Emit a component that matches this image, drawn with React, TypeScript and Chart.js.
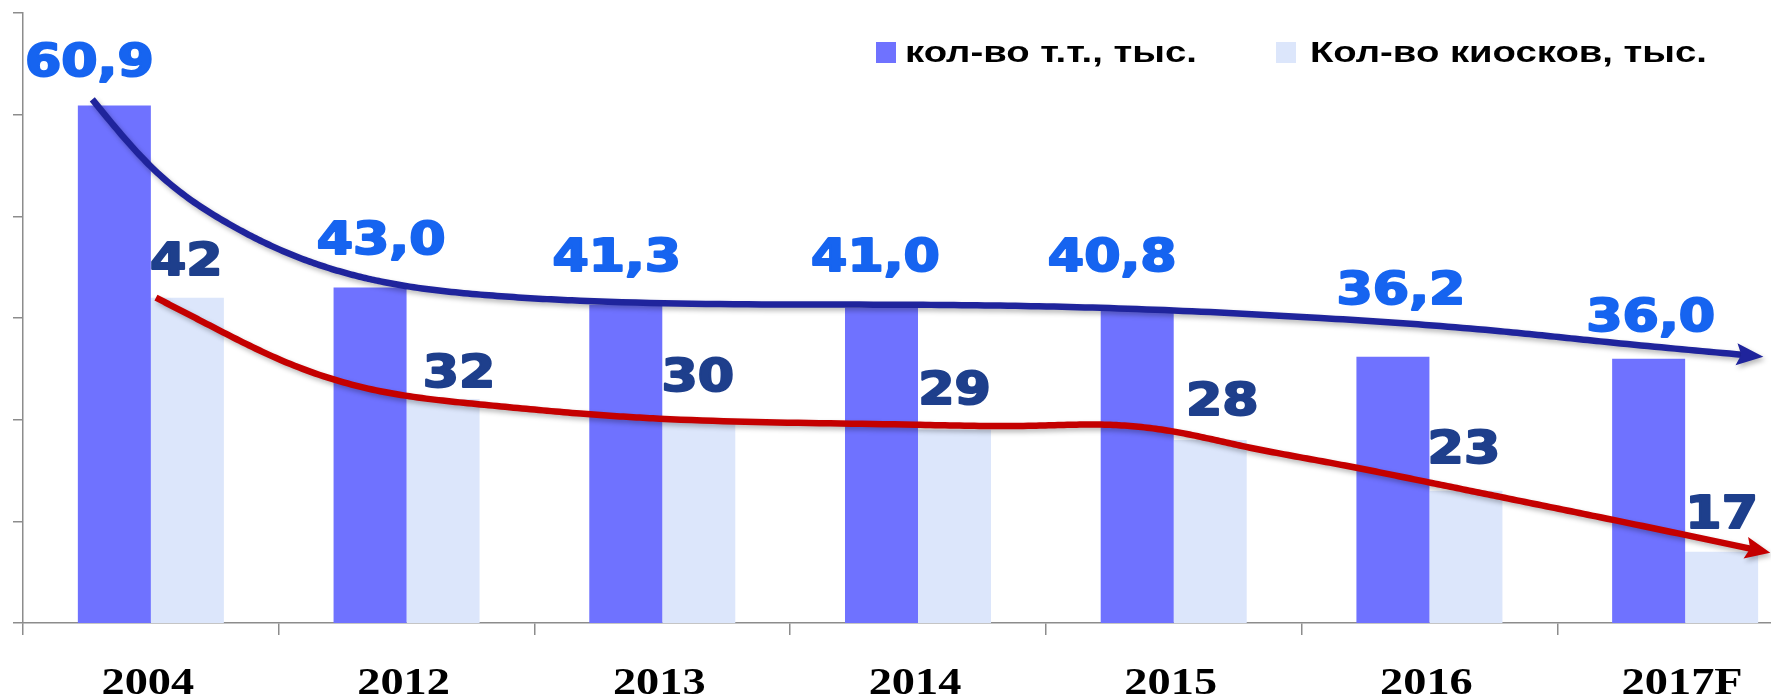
import React, { useEffect, useRef } from "react";
import { Chart, registerables } from "chart.js";

Chart.register(...registerables);

// ---- data ----
const categories = ["2004", "2012", "2013", "2014", "2015", "2016", "2017F"];
const outlets = [60.9, 43.0, 41.3, 41.0, 40.8, 36.2, 36.0];
const kiosks = [42, 32, 30, 29, 28, 23, 17];
const outletLabels = ["60,9", "43,0", "41,3", "41,0", "40,8", "36,2", "36,0"];
const kioskLabels = ["42", "32", "30", "29", "28", "23", "17"];
const seriesNames = ["кол-во т.т., тыс.", "Кол-во киосков, тыс."];
const yMin = 10;
const yMax = 70;
const yStep = 10;
// hand-drawn trend arrows: x = category index (fractional), y = value
const outletTrendX = [-0.229, 0, 0.295, 0.506, 0.737, 0.898, 1.289, 1.679, 2.99, 3.713, 4.574, 5.277, 5.668, 6.306];
const outletTrendY = [61.5, 54.9, 49.4, 46.7, 44.6, 43.6, 42.3, 41.7, 41.3, 41.0, 40.0, 38.7, 37.7, 36.2];
const kioskTrendX = [0.02, 0.205, 0.514, 0.897, 1.288, 1.68, 1.989, 2.99, 3.45, 3.741, 4.007, 4.269, 4.625, 4.985, 5.277, 5.668, 6.333];
const kioskTrendY = [42.0, 39.6, 35.8, 32.8, 31.5, 30.6, 30.1, 29.5, 29.4, 29.5, 28.8, 27.4, 25.7, 23.9, 22.4, 20.4, 16.9];

// ---- styles ----
const outletColor = "#6f72ff";
const kioskColor = "#dce6fb";
const outletLabelColor = "#1664f0";
const kioskLabelColor = "#1e3f8c";
const outletTrendColor = "#1f249c";
const kioskTrendColor = "#c40000";
const axisColor = "#8c8c8c";
// label offsets (dx, baseline gap above bar top)
const outletDx = [-25, 11, -9, -6, -25, 8, 2];
const outletDy = [30, 34, 34, 37, 39, 53, 28];
const kioskDx = [-1, 16, -1, 0, 12, -2, 0];
const kioskDy = [23, 12, 29, 26, 25, 28, 24];

function drawStretched(
  ctx: CanvasRenderingContext2D,
  text: string,
  x: number,
  y: number,
  font: string,
  color: string,
  sx: number,
  align: CanvasTextAlign,
  stroke = 0
) {
  ctx.save();
  ctx.font = font;
  ctx.fillStyle = color;
  ctx.strokeStyle = color;
  ctx.textAlign = align;
  ctx.textBaseline = "alphabetic";
  ctx.translate(x, y);
  ctx.scale(sx, 1);
  ctx.fillText(text, 0, 0);
  if (stroke > 0) {
    ctx.lineWidth = stroke;
    ctx.lineJoin = "round";
    ctx.strokeText(text, 0, 0);
  }
  ctx.restore();
}

// natural cubic spline through points (x increasing), sampled densely
function splineSample(px: number[], py: number[], perSeg: number) {
  const n = px.length;
  const h: number[] = [];
  for (let i = 0; i < n - 1; i++) h.push(px[i + 1] - px[i]);
  const a: number[] = new Array(n).fill(0);
  const b: number[] = new Array(n).fill(1);
  const c: number[] = new Array(n).fill(0);
  const d: number[] = new Array(n).fill(0);
  for (let i = 1; i < n - 1; i++) {
    a[i] = h[i - 1];
    b[i] = 2 * (h[i - 1] + h[i]);
    c[i] = h[i];
    d[i] = 6 * ((py[i + 1] - py[i]) / h[i] - (py[i] - py[i - 1]) / h[i - 1]);
  }
  // Thomas algorithm
  const cp = new Array(n).fill(0);
  const dp = new Array(n).fill(0);
  cp[0] = c[0] / b[0];
  dp[0] = d[0] / b[0];
  for (let i = 1; i < n; i++) {
    const m = b[i] - a[i] * cp[i - 1];
    cp[i] = c[i] / m;
    dp[i] = (d[i] - a[i] * dp[i - 1]) / m;
  }
  const M = new Array(n).fill(0);
  M[n - 1] = dp[n - 1];
  for (let i = n - 2; i >= 0; i--) M[i] = dp[i] - cp[i] * M[i + 1];
  const out: { x: number; y: number }[] = [];
  for (let i = 0; i < n - 1; i++) {
    for (let k = 0; k < perSeg; k++) {
      const t = k / perSeg;
      const x = px[i] + t * h[i];
      const A = (px[i + 1] - x) / h[i];
      const B = (x - px[i]) / h[i];
      const y =
        A * py[i] +
        B * py[i + 1] +
        ((A * A * A - A) * M[i] + (B * B * B - B) * M[i + 1]) * (h[i] * h[i]) / 6;
      out.push({ x, y });
    }
  }
  out.push({ x: px[n - 1], y: py[n - 1] });
  return out;
}

function drawTrend(chart: any, xs: number[], ys: number[], color: string, width: number, headLen: number, headHalf: number) {
  const ctx: CanvasRenderingContext2D = chart.ctx;
  const xScale = chart.scales.x;
  const yScale = chart.scales.y;
  const px = xs.map((v) => xScale.getPixelForValue(v));
  const py = ys.map((v) => yScale.getPixelForValue(v));
  const pts = splineSample(px, py, 24);
  const n = pts.length;
  const tip = pts[n - 1];
  const prev = pts[n - 6];
  const ang = Math.atan2(tip.y - prev.y, tip.x - prev.x);
  const c = Math.cos(ang);
  const s = Math.sin(ang);
  const stopX = tip.x - c * headLen * 0.8;
  const line = pts.filter((p) => p.x <= stopX);

  ctx.save();
  ctx.shadowColor = "rgba(0,0,0,0.28)";
  ctx.shadowBlur = 5;
  ctx.shadowOffsetX = 2;
  ctx.shadowOffsetY = 3;
  ctx.strokeStyle = color;
  ctx.fillStyle = color;
  ctx.lineWidth = width;
  ctx.lineCap = "butt";
  ctx.lineJoin = "round";
  ctx.beginPath();
  ctx.moveTo(line[0].x, line[0].y);
  for (let i = 1; i < line.length; i++) ctx.lineTo(line[i].x, line[i].y);
  ctx.lineTo(stopX, tip.y - s * headLen * 0.8);
  ctx.stroke();
  ctx.beginPath();
  ctx.moveTo(tip.x, tip.y);
  ctx.lineTo(tip.x - c * headLen - s * headHalf, tip.y - s * headLen + c * headHalf);
  ctx.lineTo(tip.x - c * headLen * 0.82, tip.y - s * headLen * 0.82);
  ctx.lineTo(tip.x - c * headLen + s * headHalf, tip.y - s * headLen - c * headHalf);
  ctx.closePath();
  ctx.fill();
  ctx.restore();
}

const overlayPlugin = {
  id: "overlay",
  afterDatasetsDraw(chart: any) {
    const ctx: CanvasRenderingContext2D = chart.ctx;
    drawTrend(chart, outletTrendX, outletTrendY, outletTrendColor, 6.5, 27, 11);
    drawTrend(chart, kioskTrendX, kioskTrendY, kioskTrendColor, 6.5, 25, 11);

    const labelFont = "bold 45px 'DejaVu Sans'";
    const m0 = chart.getDatasetMeta(0);
    const m1 = chart.getDatasetMeta(1);
    outletLabels.forEach((t, i) => {
      const bar = m0.data[i];
      drawStretched(ctx, t, bar.x + outletDx[i], bar.y - outletDy[i], labelFont, outletLabelColor, 1.16, "center", 2);
    });
    kioskLabels.forEach((t, i) => {
      const bar = m1.data[i];
      drawStretched(ctx, t, bar.x + kioskDx[i], bar.y - kioskDy[i], labelFont, kioskLabelColor, 1.16, "center", 2);
    });

    // category labels
    const xs = chart.scales.x;
    const axisBottom = xs.bottom;
    categories.forEach((cat, i) => {
      drawStretched(ctx, cat, xs.getPixelForValue(i) - 3, axisBottom + 59, "bold 38px 'Liberation Serif'", "#000", 1.22, "center");
    });

    // legend
    const legendFont = "bold 29px 'Liberation Sans'";
    ctx.save();
    ctx.fillStyle = outletColor;
    ctx.fillRect(876, 42, 20, 21);
    ctx.fillStyle = kioskColor;
    ctx.fillRect(1276, 42, 20, 21);
    ctx.restore();
    drawStretched(ctx, seriesNames[0], 905, 62, legendFont, "#000", 1.32, "left");
    drawStretched(ctx, seriesNames[1], 1310, 62, legendFont, "#000", 1.32, "left");
  },
};

export default function App() {
  const ref = useRef<HTMLCanvasElement>(null);
  useEffect(() => {
    const chart = new Chart(ref.current as HTMLCanvasElement, {
      type: "bar",
      data: {
        labels: categories,
        datasets: [
          {
            label: seriesNames[0],
            data: outlets,
            backgroundColor: outletColor,
            borderWidth: 0,
            categoryPercentage: 0.571,
            barPercentage: 1.0,
          },
          {
            label: seriesNames[1],
            data: kiosks,
            backgroundColor: kioskColor,
            borderWidth: 0,
            categoryPercentage: 0.571,
            barPercentage: 1.0,
          },
        ],
      },
      options: {
        responsive: false,
        animation: false,
        devicePixelRatio: 1,
        layout: { padding: { left: 13, top: 13, right: 17, bottom: 64 } },
        plugins: {
          legend: { display: false },
          tooltip: { enabled: false },
          title: { display: false },
        },
        scales: {
          x: {
            type: "category",
            offset: true,
            grid: {
              offset: true,
              drawOnChartArea: false,
              drawTicks: true,
              tickLength: 12,
              color: axisColor,
              lineWidth: 1.5,
            },
            border: { display: true, color: axisColor, width: 1.5 },
            ticks: { display: false },
          },
          y: {
            type: "linear",
            min: yMin,
            max: yMax,
            ticks: { display: false, stepSize: yStep },
            grid: {
              drawOnChartArea: false,
              drawTicks: true,
              tickLength: 10,
              color: axisColor,
              lineWidth: 1.5,
            },
            border: { display: true, color: axisColor, width: 1.5 },
          },
        },
      },
      plugins: [overlayPlugin],
    });
    return () => chart.destroy();
  }, []);

  return (
    <div
      style={{
        position: "fixed",
        left: 0,
        top: 0,
        width: 1771,
        height: 699,
        overflow: "hidden",
        background: "#ffffff",
      }}
    >
      <canvas ref={ref} width={1830} height={699} style={{ display: "block", width: 1830, height: 699 }} />
    </div>
  );
}
